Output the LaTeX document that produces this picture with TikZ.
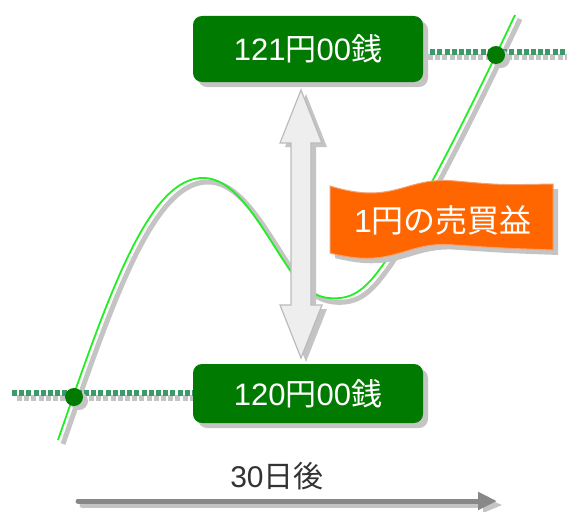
\documentclass[tikz,border=0pt]{standalone}
\usepackage{fontspec}
\setmainfont{Liberation Sans}
\newfontfamily\cjk{Noto Sans CJK JP}
\usetikzlibrary{arrows.meta}
\definecolor{boxgreen}{HTML}{007A00}
\definecolor{dotgreen}{HTML}{3A9A6A}
\definecolor{shad}{HTML}{C4C4C4}
\definecolor{curvegreen}{HTML}{22EE22}
\definecolor{bannerorange}{HTML}{FF6600}
\definecolor{bannerborder}{HTML}{F5A070}
\definecolor{arrowgray}{HTML}{888888}
\definecolor{arrowfill}{HTML}{EEEEEE}
\definecolor{arrowline}{HTML}{BBBBBB}
\tikzset{
  pricebox/.style={fill=boxgreen, rounded corners=9pt, minimum width=230pt, inner sep=0pt, text=white, font=\fontsize{31}{31}\selectfont},
  dotline/.style={line width=5.5pt, dash pattern=on 5pt off 2.2pt, dotgreen},
  dotshadow/.style={line width=5.5pt, dash pattern=on 5pt off 2.2pt, shad},
  crossdot/.style={circle, fill=boxgreen, minimum size=18pt, inner sep=0pt},
}
\begin{document}
\begin{tikzpicture}[x=1pt,y=-1pt]
\useasboundingbox (0,0) rectangle (567,511);
% curve shadow and curve
\def\curvepath{(58,440) .. controls (110,290) and (150,175) .. (205,178) .. controls (240,180) and (265,235) .. (292,273) .. controls (305,292) and (320,300) .. (340,298) .. controls (360,296) and (372,280) .. (385,262) .. controls (420,210) and (470,110) .. (515,15)}
\begin{scope}[shift={(5,4)}]
\draw[shad, line width=5pt] \curvepath;
\end{scope}
\draw[curvegreen, line width=1.8pt] \curvepath;
% dotted lines
\draw[dotshadow] (17,398) -- (198,398);
\draw[dotline] (12,393) -- (193,393);
\draw[dotshadow] (428,57) -- (567,57);
\draw[dotline] (423,52) -- (567,52);
% dots
\node[crossdot, fill=shad] (d1s) at (79,401) {};
\node[crossdot] (d1) at (74,397) {};
\node[crossdot, fill=shad] (d2s) at (501,59) {};
\node[crossdot] (d2) at (496,55) {};
% boxes
\fill[shad, rounded corners=9pt] (198,21) rectangle (428,87);
\node[pricebox, minimum height=66pt] (top) at (308,49) {121{\cjk 円}00{\cjk 銭}};
\fill[shad, rounded corners=9pt] (198,369) rectangle (428,428);
\node[pricebox, minimum height=59pt] (bot) at (308,393.5) {120{\cjk 円}00{\cjk 銭}};
% double arrow
\def\dblarrow{(301,90) -- (322,143) -- (311,143) -- (311,305) -- (322,305) -- (301,358) -- (280,305) -- (291,305) -- (291,143) -- (280,143) -- cycle}
\begin{scope}[shift={(5,4)}]
\fill[shad] \dblarrow;
\end{scope}
\draw[arrowline, fill=arrowfill, line width=1.2pt, line join=miter] \dblarrow;
% banner
\def\bannerpath{(330,186) .. controls (395,206) and (405,176) .. (455,181) .. controls (500,185) .. (553,184) -- (553,250) .. controls (500,248) .. (455,245) .. controls (405,240) and (395,270) .. (330,253) -- cycle}
\begin{scope}[shift={(5,5)}]
\fill[shad] \bannerpath;
\end{scope}
\draw[bannerborder, fill=bannerorange, line width=1pt] \bannerpath;
\node[text=white, font=\fontsize{32}{32}\selectfont] (gain) at (443,220) {1{\cjk 円の売買益}};
% time arrow
\draw[shad, line width=5pt, line cap=round] (82,505) -- (490,505);
\fill[shad] (502,505) -- (483,497) -- (483,513) -- cycle;
\coordinate (ts) at (78,501);
\coordinate (te) at (497,501);
\draw[arrowgray, line width=5pt, line cap=round, -{Triangle[length=19pt,width=17pt]}] (ts) -- (te);
\node[text=black!80, font=\fontsize{30}{30}\selectfont] (days) at (277,476) {30{\cjk 日後}};
\end{tikzpicture}
\end{document}
